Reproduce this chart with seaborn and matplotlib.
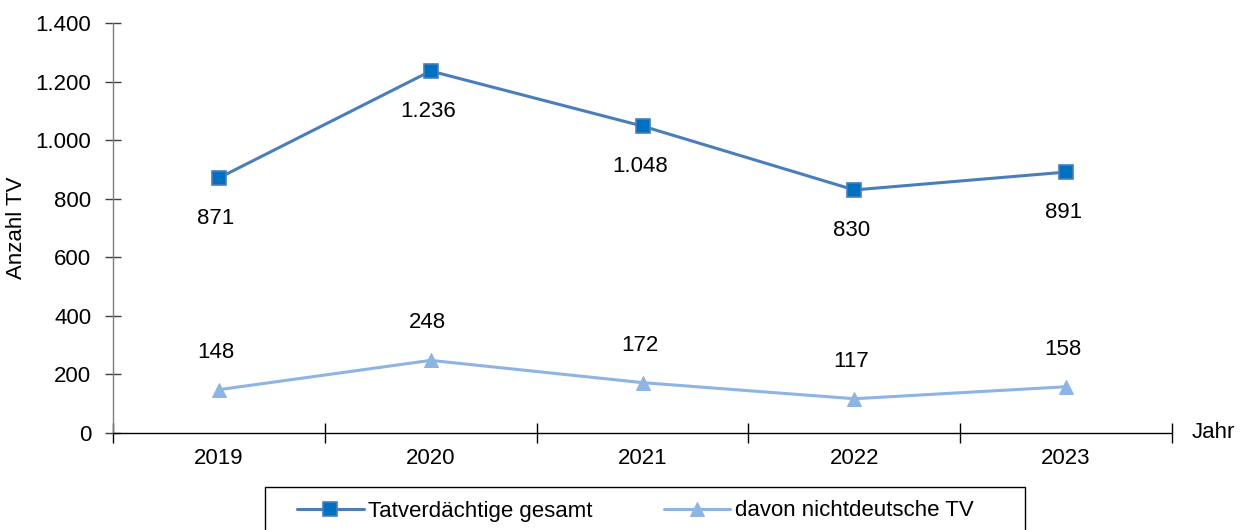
import matplotlib
matplotlib.use('Agg')
import matplotlib.pyplot as plt
from matplotlib.patches import Rectangle
import numpy as np
import pandas as pd
import seaborn as sns

# Werte aus der Grafik
jahre = ['2019', '2020', '2021', '2022', '2023']
tv_gesamt = [871, 1236, 1048, 830, 891]
tv_nichtdeutsch = [148, 248, 172, 117, 158]
name_gesamt = 'Tatverdächtige gesamt'
name_nd = 'davon nichtdeutsche TV'
y_ticks = [0, 200, 400, 600, 800, 1000, 1200, 1400]

sns.set_style('white')
plt.rcParams['font.family'] = ['Liberation Sans', 'DejaVu Sans']
plt.rcParams['text.color'] = 'black'
plt.rcParams['xtick.color'] = 'black'
plt.rcParams['ytick.color'] = 'black'
plt.rcParams['axes.labelcolor'] = 'black'
fs = 16

df = pd.DataFrame({'pos': np.arange(len(jahre)), 'gesamt': tv_gesamt, 'nd': tv_nichtdeutsch})


def fmt(v):
    # deutsche Tausenderpunkte
    return f'{v:,.0f}'.replace(',', '.')


fig = plt.figure(figsize=(12.58, 5.30), dpi=100)
ax = fig.add_axes([113 / 1258, 1 - 433 / 530, (1172 - 113) / 1258, 410 / 530])

sns.lineplot(data=df, x='pos', y='gesamt', ax=ax, color='#4a7ebb', lw=2.2,
             marker='s', markersize=10, markerfacecolor='#0070c0',
             markeredgecolor='#4a7ebb', markeredgewidth=1.2, label=name_gesamt)
sns.lineplot(data=df, x='pos', y='nd', ax=ax, color='#8eb4e3', lw=2.2,
             marker='^', markersize=10, markerfacecolor='#8eb4e3',
             markeredgecolor='#8eb4e3', label=name_nd)

for i, v in enumerate(tv_gesamt):
    ax.annotate(fmt(v), (i, v), xytext=(-2, -29), textcoords='offset points',
                ha='center', va='center', fontsize=fs)
for i, v in enumerate(tv_nichtdeutsch):
    ax.annotate(fmt(v), (i, v), xytext=(-2, 27), textcoords='offset points',
                ha='center', va='center', fontsize=fs)

ax.set_xlim(-0.5, len(jahre) - 0.5)
ax.set_ylim(0, 1400)
ax.set_yticks(y_ticks)
ax.set_yticklabels([fmt(t) for t in y_ticks], fontsize=fs)
ax.set_xticks(np.arange(len(jahre)))
ax.set_xticklabels(jahre, fontsize=fs)
ax.set_xticks(np.arange(-0.5, len(jahre)), minor=True)
ax.tick_params(axis='x', which='major', length=0, pad=11)
ax.tick_params(axis='x', which='minor', direction='inout', length=14, width=1,
               color='black', bottom=True)
ax.tick_params(axis='y', direction='inout', length=11, width=1, color='#404040', pad=10, left=True)

for s in ['top', 'right']:
    ax.spines[s].set_visible(False)
ax.spines['left'].set_color('#7f7f7f')
ax.spines['bottom'].set_color('black')
ax.spines['left'].set_linewidth(1)
ax.spines['bottom'].set_linewidth(1)

ax.set_xlabel('')
ax.set_ylabel('Anzahl TV', fontsize=fs, labelpad=6)
ax.text(1.019, 0.0, 'Jahr', transform=ax.transAxes, fontsize=fs, ha='left', va='center')

# Legende ohne eigenen Rahmen, Rahmen separat (unten abgeschnitten wie im Original)
ax.get_legend().remove()
h, l = ax.get_legend_handles_labels()
fig.legend(h, l, loc='center left', bbox_to_anchor=(297 / 1258, 1 - 511 / 530),
           ncol=2, fontsize=fs, frameon=False, handlelength=3.0,
           columnspacing=3.2, borderpad=0, handletextpad=0.2, borderaxespad=0)
fig.patches.append(Rectangle((265 / 1258, -0.1), (1025 - 265) / 1258, 0.1 + 1 - 487 / 530,
                             transform=fig.transFigure, fill=False, edgecolor='black', lw=1))

fig.savefig('out.png', dpi=100)
